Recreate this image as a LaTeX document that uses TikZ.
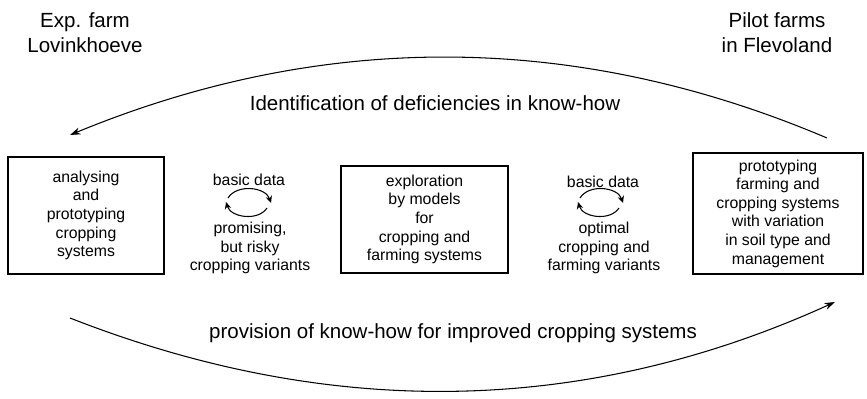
\documentclass[tikz,border=0pt]{standalone}
\usepackage{fontspec}
\setmainfont{Liberation Sans}
\usetikzlibrary{arrows.meta}

\begin{document}
\begin{tikzpicture}[x=0.03cm, y=-0.03cm, line width=0.9pt,
  box/.style={draw, line width=1.3pt, align=center, inner sep=0pt, font=\fontsize{13.5}{15.9}\selectfont},
  lbl/.style={align=center, font=\fontsize{13.5}{15.9}\selectfont},
  big/.style={align=center, font=\fontsize{17.5}{21.3}\selectfont},
  cyc/.style={-{Stealth[length=6pt,width=5.5pt]}, line width=0.9pt, bend left=65}]
\useasboundingbox (0,0) rectangle (867,399);
\node[big] (exp) at (85,33) {Exp. farm\\Lovinkhoeve}; \node[big] (pilot) at (777,33) {Pilot farms\\in Flevoland};
\node[big] (ident) at (435,103) {Identification of deficiencies in know-how};
\node[big] (prov) at (453,333) {provision of know-how for improved cropping systems};
% boxes
\node[box, minimum width=4.68cm, minimum height=3.51cm] (analyse) at (86,215.5) {analysing\\and\\prototyping\\cropping\\systems};
\node[box, minimum width=5.01cm, minimum height=3.21cm] (explore) at (424.5,219.5) {exploration\\by models\\for\\cropping and\\farming systems};
\node[box, minimum width=5.1cm, minimum height=3.63cm] (proto) at (778,213.5) {prototyping\\farming and\\cropping systems\\with variation\\in soil type and\\management};
% exchange between boxes
\node[lbl] (data1) at (249,180) {basic data}; \node[lbl] (risky) at (250,248) {promising,\\but risky\\cropping variants};
\node[lbl] (data2) at (603,182) {basic data}; \node[lbl] (optimal) at (604,248) {optimal\\cropping and\\farming variants};
\coordinate (c1w) at (228,198); \coordinate (c1e) at (271,203); \coordinate (c1se) at (267,208); \coordinate (c1sw) at (226,202);
\coordinate (c2w) at (580,198); \coordinate (c2e) at (623,203); \coordinate (c2se) at (619,208); \coordinate (c2sw) at (578,202);
\draw[cyc] (c1w) to (c1e); \draw[cyc] (c1se) to (c1sw); \draw[cyc] (c2w) to (c2e); \draw[cyc] (c2se) to (c2sw);
% feedback and provision
\coordinate (topR) at (827,138); \coordinate (topL) at (70,135); \coordinate (botL) at (70,318); \coordinate (botR) at (835,302);
\draw[-{Stealth[length=9pt,width=6pt]}] (topR) .. controls (575,31) and (322,31) .. (topL);
\draw[-{Stealth[length=9pt,width=6pt]}] (botL) .. controls (325,418) and (580,418) .. (botR);
\end{tikzpicture}
\end{document}
